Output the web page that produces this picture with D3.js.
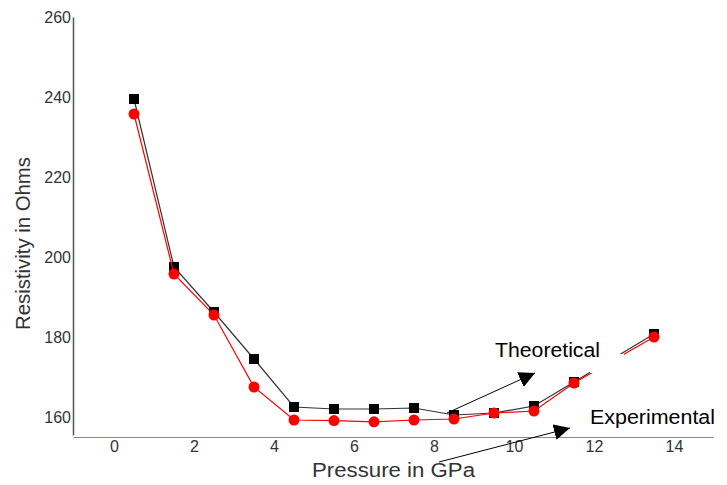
<!DOCTYPE html>
<html>
<head>
<meta charset="utf-8">
<script src="https://cdn.jsdelivr.net/npm/d3@7"></script>
<style>
  body { margin: 0; background: #fff; }
  svg text { font-family: Arial, "Liberation Sans", sans-serif; }
</style>
</head>
<body>
<div id="chart"></div>
<script>
// pressure values (GPa); no point at 12.5
var pressure = [0.5, 1.5, 2.5, 3.5, 4.5, 5.5, 6.5, 7.5, 8.5, 9.5, 10.5, 11.5, 13.5];
var theoretical = [239.5, 197.5, 186.25, 174.5, 162.5, 162, 162, 162.25, 160.5, 161, 162.75, 168.75, 180.75];
var experimental = [235.75, 195.75, 185.5, 167.5, 159.25, 159.1, 158.8, 159.25, 159.5, 161, 161.5, 168.5, 180];
var xTicks = [0, 2, 4, 6, 8, 10, 12, 14];
var yTicks = [160, 180, 200, 220, 240, 260];

var W = 727, H = 485;
var svg = d3.select('#chart').append('svg').attr('width', W).attr('height', H);

var x = d3.scaleLinear().domain([-1.025, 14.975]).range([73, 713]);
var y = d3.scaleLinear().domain([155.5, 260]).range([435, 17]);

// axes
var gx = svg.append('g').attr('transform', 'translate(0,437)')
  .call(d3.axisBottom(x).tickValues(xTicks).tickSize(0).tickPadding(4));
gx.select('.domain').attr('stroke', '#888').attr('stroke-width', 1.2);
gx.selectAll('text').attr('font-size', 16).attr('fill', '#333');

var gy = svg.append('g').attr('transform', 'translate(73,0)')
  .call(d3.axisLeft(y).tickValues(yTicks).tickSize(0).tickPadding(2));
gy.select('.domain').attr('stroke', '#555').attr('stroke-width', 1.5);
gy.selectAll('text').attr('font-size', 16).attr('fill', '#333');

svg.append('text').attr('x', 312).attr('y', 477)
  .attr('font-size', 20).attr('fill', '#333')
  .attr('textLength', 163).attr('lengthAdjust', 'spacingAndGlyphs')
  .text('Pressure in GPa');
svg.append('text').attr('transform', 'translate(30,330) rotate(-90)')
  .attr('font-size', 20).attr('fill', '#333')
  .attr('textLength', 173).attr('lengthAdjust', 'spacingAndGlyphs')
  .text('Resistivity in Ohms');

var line = d3.line().x(function (d) { return x(d[0]); }).y(function (d) { return y(d[1]); });
var theo = d3.zip(pressure, theoretical);
var expr = d3.zip(pressure, experimental);

// theoretical
svg.append('path').datum(theo).attr('d', line)
  .attr('fill', 'none').attr('stroke', '#333').attr('stroke-width', 1.2);
svg.selectAll('rect.sq').data(theo).enter().append('rect').attr('class', 'sq')
  .attr('x', function (d) { return x(d[0]) - 5; })
  .attr('y', function (d) { return y(d[1]) - 5; })
  .attr('width', 10).attr('height', 10).attr('fill', '#000');

// experimental
svg.append('path').datum(expr).attr('d', line)
  .attr('fill', 'none').attr('stroke', '#ff0000').attr('stroke-width', 1.2);
svg.selectAll('circle.pt').data(expr).enter().append('circle').attr('class', 'pt')
  .attr('cx', function (d) { return x(d[0]); })
  .attr('cy', function (d) { return y(d[1]); })
  .attr('r', 5.5).attr('fill', '#ff0000');

// white label box hides part of the lines
svg.append('rect').attr('x', 590).attr('y', 354).attr('width', 34).attr('height', 19).attr('fill', '#fff');

var defs = svg.append('defs');
defs.append('marker').attr('id', 'arrow').attr('viewBox', '0 0 10 10')
  .attr('refX', 10).attr('refY', 5).attr('markerWidth', 16).attr('markerHeight', 16)
  .attr('markerUnits', 'userSpaceOnUse').attr('orient', 'auto')
  .append('path').attr('d', 'M0,0L10,5L0,10Z').attr('fill', '#000');

svg.append('line').attr('x1', 447).attr('y1', 413).attr('x2', 535).attr('y2', 373)
  .attr('stroke', '#000').attr('stroke-width', 1).attr('marker-end', 'url(#arrow)');
svg.append('line').attr('x1', 439).attr('y1', 462).attr('x2', 570).attr('y2', 428)
  .attr('stroke', '#000').attr('stroke-width', 1).attr('marker-end', 'url(#arrow)');

svg.append('text').attr('x', 495).attr('y', 357).attr('font-size', 20).attr('fill', '#000')
  .attr('textLength', 105).attr('lengthAdjust', 'spacingAndGlyphs').text('Theoretical');
svg.append('text').attr('x', 590).attr('y', 424).attr('font-size', 20).attr('fill', '#000')
  .attr('textLength', 125).attr('lengthAdjust', 'spacingAndGlyphs').text('Experimental');
</script>
</body>
</html>
